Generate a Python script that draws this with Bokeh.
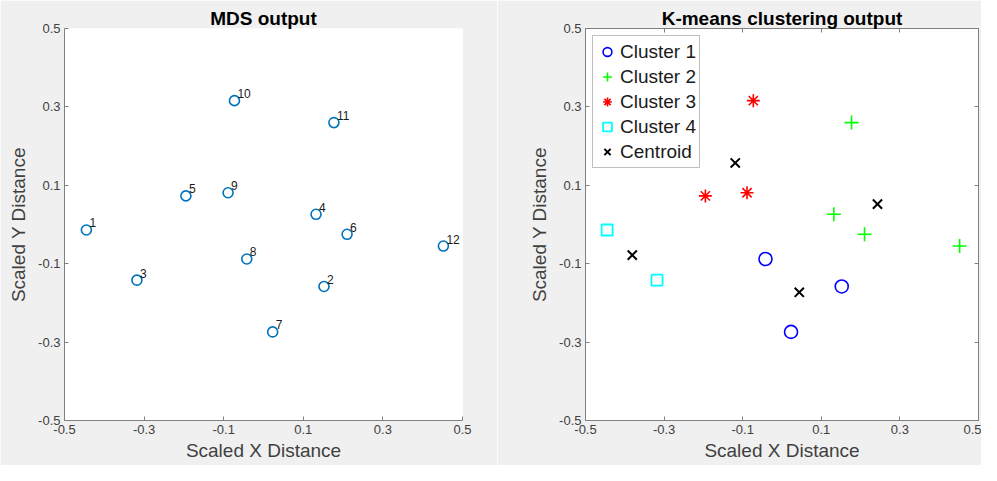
from bokeh.plotting import figure
from bokeh.layouts import row
from bokeh.models import ColumnDataSource, FixedTicker, LinearAxis, Range1d
from bokeh.core.properties import value
from bokeh.embed import file_html
from bokeh.resources import INLINE

# ---- data ----
point_labels = ["1", "2", "3", "4", "5", "6", "7", "8", "9", "10", "11", "12"]
x_mds = [-0.445, 0.152, -0.318, 0.132, -0.195, 0.210, 0.023, -0.042, -0.089, -0.073, 0.177, 0.452]
y_mds = [-0.014, -0.158, -0.142, 0.026, 0.073, -0.025, -0.274, -0.088, 0.081, 0.316, 0.260, -0.055]
cluster_id = [4, 1, 4, 2, 3, 2, 1, 1, 3, 3, 2, 2]
centroid_x = [0.044, 0.243, -0.119, -0.381]
centroid_y = [-0.173, 0.052, 0.157, -0.078]
tick_values = [-0.5, -0.3, -0.1, 0.1, 0.3, 0.5]
tick_labels = ["-0.5", "-0.3", "-0.1", "0.1", "0.3", "0.5"]
cluster_names = ["Cluster 1", "Cluster 2", "Cluster 3", "Cluster 4"]

FONT = "Liberation Sans"
BG = "#f0f0f0"
AX = "#808080"
TXT = "#404040"
H = 465
TOP = 28
BOTTOM = 45


def style_axis(ax, show_labels=True):
    ax.ticker = FixedTicker(ticks=tick_values)
    ax.minor_tick_line_color = None
    ax.major_tick_in = 4
    ax.major_tick_out = 0
    ax.axis_line_color = AX
    ax.major_tick_line_color = AX
    ax.major_label_text_font = FONT
    if show_labels:
        ax.major_label_overrides = {v: l for v, l in zip(tick_values, tick_labels)}
        ax.major_label_text_font_size = "13px"
        ax.major_label_text_color = TXT
        ax.major_label_standoff = 4
    else:
        ax.major_label_text_font_size = "1px"
        ax.major_label_text_color = None
        ax.major_label_standoff = 0
    ax.axis_label_text_font = FONT
    ax.axis_label_text_font_size = "19px"
    ax.axis_label_text_font_style = "normal"
    ax.axis_label_text_color = TXT
    ax.axis_label_standoff = 6


def make_fig(width, border_left, border_right, title):
    p = figure(width=width, height=H, output_backend="svg", toolbar_location=None,
               x_range=Range1d(-0.5, 0.5), y_range=Range1d(-0.5, 0.5),
               min_border_left=border_left, min_border_right=border_right,
               min_border_top=TOP, min_border_bottom=BOTTOM,
               x_axis_label="Scaled X Distance", y_axis_label="Scaled Y Distance")
    p.border_fill_color = BG
    p.background_fill_color = "white"
    p.grid.visible = False
    p.title.text = title
    p.title.align = "center"
    p.title.text_font = FONT
    p.title.text_font_size = "19px"
    p.title.text_font_style = "bold"
    p.title.text_color = "black"
    p.title.standoff = 0
    p.title.offset = 0
    for ax in p.xaxis + p.yaxis:
        style_axis(ax)
    p.xaxis.axis_label_standoff = 3
    return p


# ---- left: MDS output ----
p1 = make_fig(497, 64, 35, "MDS output")
p1.outline_line_color = None
src = ColumnDataSource(dict(x=x_mds, y=y_mds, lab=point_labels))
p1.scatter("x", "y", source=src, marker="circle", size=10, fill_color=None,
           line_color="#0072BD", line_width=1.6)
p1.text("x", "y", text="lab", source=src, x_offset=3, y_offset=-7,
        text_font=value(FONT), text_font_size="12px", text_color="#1a1a1a",
        text_align="left", text_baseline="middle")

# ---- right: K-means clustering output ----
p2 = make_fig(484, 88, 3, "K-means clustering output")
p2.outline_line_color = AX
for loc in ("above", "right"):
    extra = LinearAxis()
    style_axis(extra, show_labels=False)
    extra.axis_line_color = None
    extra.axis_label = None
    p2.add_layout(extra, loc)

marker_specs = [
    dict(marker="circle", size=13, color="#0000FF", lw=1.6),
    dict(marker="cross", size=14, color="#00FF00", lw=1.6),
    dict(marker="asterisk", size=13, color="#FF0000", lw=1.6),
    dict(marker="square", size=11, color="#00FFFF", lw=1.8),
]
for k, spec in enumerate(marker_specs):
    cid = k + 1
    xs = [x for x, c in zip(x_mds, cluster_id) if c == cid]
    ys = [y for y, c in zip(y_mds, cluster_id) if c == cid]
    p2.scatter(xs, ys, marker=spec["marker"], size=spec["size"], fill_color=None,
               line_color=spec["color"], line_width=spec["lw"],
               legend_label=cluster_names[k])
p2.scatter(centroid_x, centroid_y, marker="x", size=13, line_color="black",
           line_width=2, legend_label="Centroid")

lg = p2.legend[0]
lg.location = "top_left"
lg.margin = 7
lg.padding = 3
lg.spacing = 0
lg.border_line_color = AX
lg.background_fill_color = "white"
lg.background_fill_alpha = 1
lg.label_text_font = FONT
lg.label_text_font_size = "19px"
lg.label_text_color = "#1a1a1a"
lg.glyph_width = 22
lg.glyph_height = 25
lg.label_height = 25
lg.label_standoff = 2

layout = row(p1, p2)
open("out.html", "w").write(file_html(layout, INLINE))
